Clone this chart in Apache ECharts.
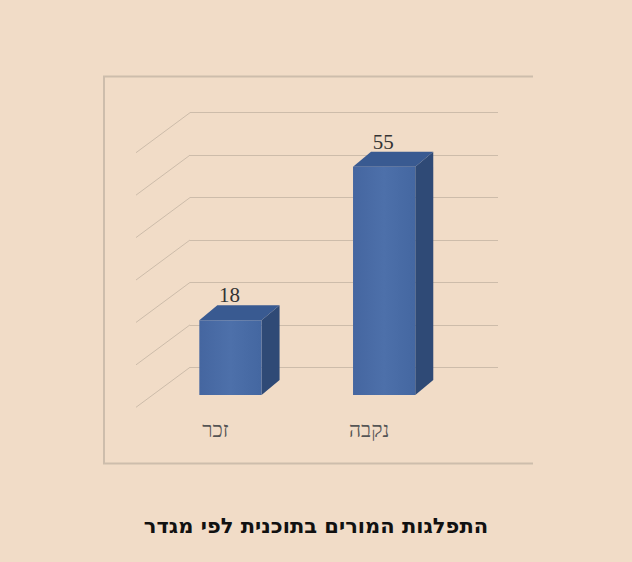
<!DOCTYPE html>
<html>
<head>
<meta charset="utf-8">
<script src="https://cdn.jsdelivr.net/npm/echarts@6/dist/echarts.min.js"></script>
<style>html,body{margin:0;padding:0;background:#f1dcc7;}#c{width:632px;height:562px;}</style>
</head>
<body>
<div id="c"></div>
<script>
var categories = ['זכר', 'נקבה'];
var values = [18, 55];
var gridValues = [0, 10, 20, 30, 40, 50, 60];
var titleText = 'התפלגות המורים בתוכנית לפי מגדר';

var chart = echarts.init(document.getElementById('c'), null, {renderer: 'svg'});
var DX = 18, DY = 15;

var option = {
  backgroundColor: '#f1dcc7',
  animation: false,
  title: {
    text: titleText,
    left: 'center',
    top: 510,
    textStyle: {fontFamily: 'DejaVu Sans', fontWeight: 'bold', fontSize: 21, color: '#111'}
  },
  graphic: [{
    type: 'polyline',
    shape: {points: [[533, 76.5], [104, 76.5], [104, 463.5], [533, 463.5]]},
    style: {stroke: '#cdbdac', lineWidth: 2, fill: null},
    silent: true
  }],
  grid: [
    {left: 190, top: 112.7, width: 308, height: 254.6},
    {left: 153.6, top: 145.9, width: 307.4, height: 249.1}
  ],
  xAxis: [
    {gridIndex: 0, type: 'value', min: 0, max: 1, show: false},
    {gridIndex: 1, type: 'category', data: categories,
     axisLine: {show: false}, axisTick: {show: false},
     axisLabel: {margin: 24, padding: [0, 30, 0, 0], fontFamily: 'Liberation Serif', fontSize: 21, color: '#555'}}
  ],
  yAxis: [
    {gridIndex: 0, type: 'value', min: 0, max: 60, interval: 10,
     axisLine: {show: false}, axisTick: {show: false}, axisLabel: {show: false},
     splitLine: {show: true, lineStyle: {color: '#cdbcaa', width: 1}}},
    {gridIndex: 1, type: 'value', min: 0, max: 60, interval: 10, show: false,
     splitLine: {show: false}}
  ],
  series: [
    {
      type: 'custom',
      xAxisIndex: 0, yAxisIndex: 0,
      silent: true,
      data: gridValues.map(function (v) { return [0, v]; }),
      renderItem: function (params, api) {
        var p = api.coord([0, api.value(1)]);
        var x = params.coordSys.x;
        return {
          type: 'line',
          shape: {x1: x, y1: p[1], x2: x - 54, y2: p[1] + 40},
          style: {stroke: '#cdbcaa', lineWidth: 1}
        };
      }
    },
    {
      type: 'custom',
      xAxisIndex: 1, yAxisIndex: 1,
      data: values.map(function (v, i) { return [i, v]; }),
      renderItem: function (params, api) {
        var idx = api.value(0), val = api.value(1);
        var p0 = api.coord([idx, 0]);
        var p1 = api.coord([idx, val]);
        var bw = api.size([1, 0])[0] * 0.405;
        var x = p0[0] - bw / 2, y = p1[1], y0 = p0[1];
        return {
          type: 'group',
          children: [
            {type: 'polygon', shape: {points: [[x + bw, y], [x + bw + DX, y - DY], [x + bw + DX, y0 - DY], [x + bw, y0]]},
             style: {fill: '#2f4a76'}},
            {type: 'polygon', shape: {points: [[x, y], [x + DX, y - DY], [x + bw + DX, y - DY], [x + bw, y]]},
             style: {fill: '#395a91'}},
            {type: 'rect', shape: {x: x, y: y, width: bw, height: y0 - y},
             style: {fill: new echarts.graphic.LinearGradient(0, 0, 1, 0, [
               {offset: 0, color: '#4566a0'}, {offset: 0.5, color: '#4d70aa'}, {offset: 1, color: '#4467a1'}])}},
            {type: 'text', x: p0[0] - 1, y: y - 25,
             style: {text: String(val), fontFamily: 'Liberation Serif', fontSize: 21, fill: '#333',
                     align: 'center', verticalAlign: 'middle'}}
          ]
        };
      }
    }
  ]
};
chart.setOption(option);
</script>
</body>
</html>
